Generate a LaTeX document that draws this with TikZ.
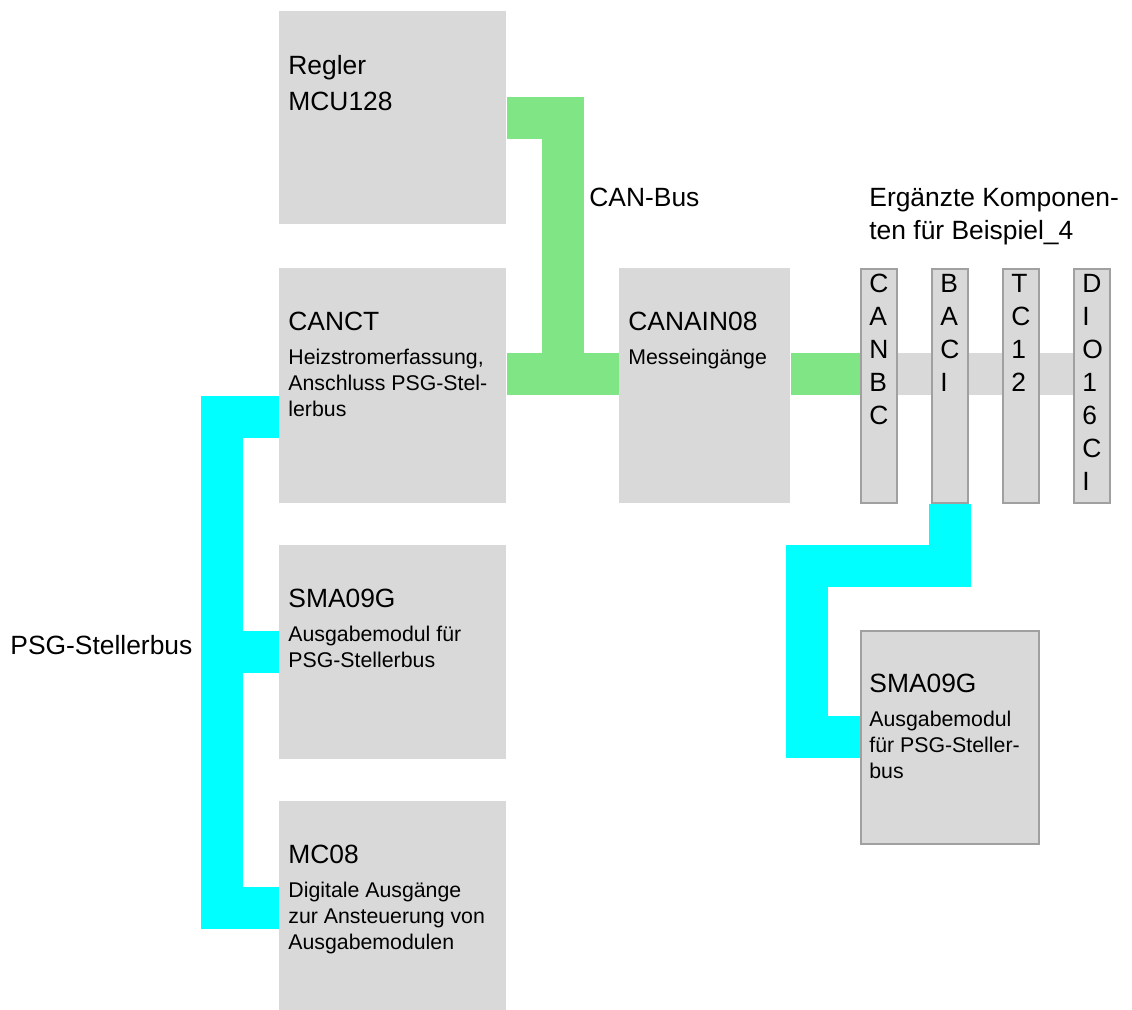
\documentclass[tikz,border=0pt]{standalone}
\usepackage{fontspec}
\setmainfont{Liberation Sans}
\usetikzlibrary{positioning,backgrounds}

\definecolor{kasten}{HTML}{D9D9D9}
\definecolor{rand}{HTML}{A0A0A0}
\definecolor{cangruen}{RGB}{128,229,132}
\definecolor{psgcyan}{HTML}{00FFFF}

% several lines, baseline on the first one
\newcommand{\zeilen}[1]{\begin{tabular}[t]{@{}l@{}}#1\end{tabular}}

\begin{document}
\begin{tikzpicture}[x=0.5pt,y=-0.5pt]

  \tikzset{modul/.style={rectangle, fill=kasten, inner sep=0pt,
  		anchor=north west}, }
  \tikzset{karte/.style={modul, draw=rand, line width=1pt,
  		minimum width=18pt, minimum height=117pt}, }
  \tikzset{gross/.style={font=\fontsize{13.2}{16.5}\selectfont,
  		inner sep=0pt, anchor=base west}, }
  \tikzset{klein/.style={font=\fontsize{10.65}{13}\selectfont,
  		inner sep=0pt, anchor=base west}, }
  \tikzset{canbus/.style={draw=cangruen, line width=21pt}, }
  \tikzset{psgbus/.style={draw=psgcyan, line width=21pt}, }
  \useasboundingbox (0,0) rectangle (1132,1010);

    % Module
    \node[modul, minimum width=113.5pt, minimum height=106.5pt] (regler) at (279,11) {};
    \node[modul, minimum width=113.5pt, minimum height=117.5pt] (canct) at (279,268) {};
    \node[modul, minimum width=85.5pt, minimum height=117.5pt] (canain) at (619,268) {};
    \node[modul, minimum width=113.5pt, minimum height=107pt] (sma) at (279,545) {};
    \node[modul, minimum width=113.5pt, minimum height=104.5pt] (mc) at (279,801) {};
    \node[modul, draw=rand, line width=1pt, minimum width=89pt,
      minimum height=106.5pt] (smaneu) at (860,630) {};

    \node[gross] (reglert) at ([shift={(4.5pt,-32pt)}]regler.north west) {\zeilen{Regler\\[1.5pt]MCU128}};
    \node[gross] (canctt) at ([shift={(4.5pt,-31.5pt)}]canct.north west) {CANCT};
    \node[klein] at ([yshift=-17pt]canctt.base west) {\zeilen{Heizstromerfassung,\\Anschluss PSG-Stel-\\lerbus}};
    \node[gross] (canaint) at ([shift={(4.5pt,-31.5pt)}]canain.north west) {CANAIN08};
    \node[klein] at ([yshift=-17pt]canaint.base west) {Messeingänge};
    \node[gross] (smat) at ([shift={(4.5pt,-31.5pt)}]sma.north west) {SMA09G};
    \node[klein] at ([yshift=-17pt]smat.base west) {\zeilen{Ausgabemodul für\\PSG-Stellerbus}};
    \node[gross] (mct) at ([shift={(4.5pt,-31.5pt)}]mc.north west) {MC08};
    \node[klein] at ([yshift=-17pt]mct.base west) {\zeilen{Digitale Ausgänge\\zur Ansteuerung von\\Ausgabemodulen}};
    \node[gross] (smaneut) at ([shift={(4.5pt,-31.5pt)}]smaneu.north west) {SMA09G};
    \node[klein] at ([yshift=-17pt]smaneut.base west) {\zeilen{Ausgabemodul\\für PSG-Steller-\\bus}};

    % Zusatzkarten
\foreach \name/\x/\buchst in {canbc/860/{C\\A\\N\\B\\C}, baci/931/{B\\A\\C\\I},
    tc/1002/{T\\C\\1\\2}, dio/1073/{D\\I\\O\\1\\6\\C\\I}} {
    \node[karte] (\name) at (\x,268) {};
    \node[gross] at ([shift={(4.5pt,-12.5pt)}]\name.north west) {\zeilen{\buchst}};
}

    \node[gross] (canlabel) at (589,207) {CAN-Bus};
    \node[gross] (ergaenzt) at (869,207) {\zeilen{Ergänzte Komponen-\\ten für Beispiel\_4}};
    \node[gross] (psglabel) at (10,655) {PSG-Stellerbus};

    % Busse
\begin{scope}[on background layer]
    \coordinate (abzweig) at (563,374.5);
    \coordinate (psgknick) at (221.5,417.5);
    \draw[canbus] (regler.east) -| (abzweig);
    \draw[canbus] (canct.east |- abzweig) -- (canain.west |- abzweig);
    \draw[canbus] (canain.east |- abzweig) -- (canbc.west |- abzweig);
    \draw[draw=kasten, line width=21pt] (canbc.east |- abzweig) -- (dio.west |- abzweig);
    \draw[psgbus] (canct.west |- psgknick) -- (psgknick) |- (mc.west |- 0,908);
    \draw[psgbus] (sma.west) -- (sma.west -| psgknick);
    \draw[psgbus] (baci.south) |- (807,566.5) |- (smaneu.west);
\end{scope}
%%
\end{tikzpicture}
\end{document}
